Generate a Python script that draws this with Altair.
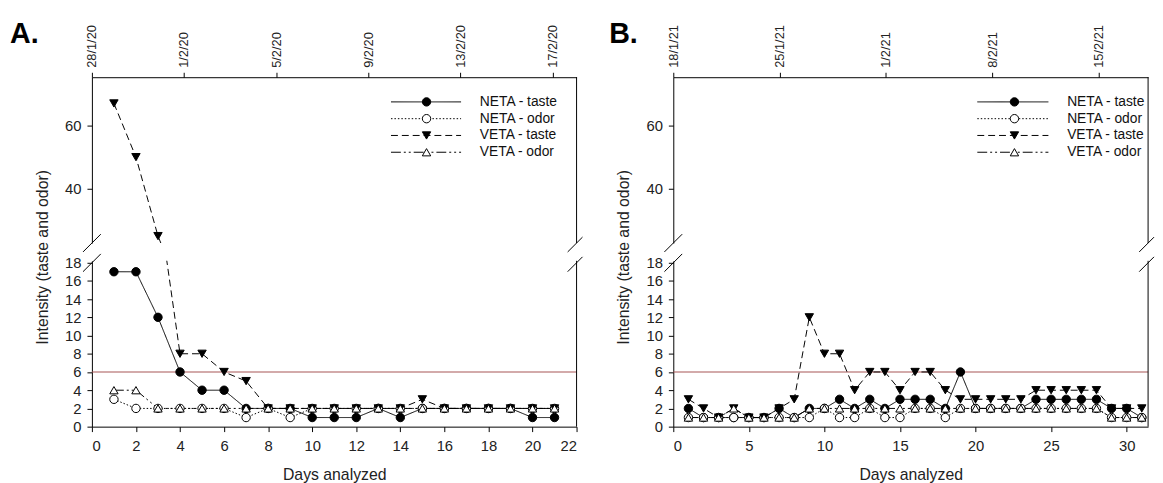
import altair as alt
import pandas as pd

# ---------------- data ----------------
series_names = ["NETA - taste", "NETA - odor", "VETA - taste", "VETA - odor"]

days_a = [1, 2, 3, 4, 5, 6, 7, 8, 9, 10, 11, 12, 13, 14, 15, 16, 17, 18, 19, 20, 21]
neta_taste_a = [17, 17, 12, 6, 4, 4, 2, 2, 2, 1, 1, 1, 2, 1, 2, 2, 2, 2, 2, 1, 1]
neta_odor_a = [3, 2, 2, 2, 2, 2, 1, 2, 1, 2, 2, 2, 2, 2, 2, 2, 2, 2, 2, 2, 2]
veta_taste_a = [67, 50, 25, 8, 8, 6, 5, 2, 2, 2, 2, 2, 2, 2, 3, 2, 2, 2, 2, 2, 2]
veta_odor_a = [4, 4, 2, 2, 2, 2, 2, 2, 2, 2, 2, 2, 2, 2, 2, 2, 2, 2, 2, 2, 2]

days_b = [1, 2, 3, 4, 5, 6, 7, 8, 9, 10, 11, 12, 13, 14, 15, 16, 17, 18, 19, 20,
          21, 22, 23, 24, 25, 26, 27, 28, 29, 30, 31]
neta_taste_b = [2, 1, 1, 1, 1, 1, 2, 1, 2, 2, 3, 2, 3, 2, 3, 3, 3, 2, 6, 2,
                2, 2, 2, 3, 3, 3, 3, 3, 2, 2, 1]
neta_odor_b = [1, 1, 1, 1, 1, 1, 1, 1, 1, 2, 1, 1, 2, 1, 1, 2, 2, 1, 2, 2,
               2, 2, 2, 2, 2, 2, 2, 2, 1, 1, 1]
veta_taste_b = [3, 2, 1, 2, 1, 1, 2, 3, 12, 8, 8, 4, 6, 6, 4, 6, 6, 4, 3, 3,
                3, 3, 3, 4, 4, 4, 4, 4, 2, 2, 2]
veta_odor_b = [1, 1, 1, 2, 1, 1, 1, 1, 2, 2, 2, 2, 2, 2, 2, 2, 2, 2, 2, 2,
               2, 2, 2, 2, 2, 2, 2, 2, 1, 1, 1]

x_ticks_a = [0, 2, 4, 6, 8, 10, 12, 14, 16, 18, 20, 22]
x_ticks_b = [0, 5, 10, 15, 20, 25, 30]
top_offsets_a = [0, 4, 8, 12, 16, 20]
top_labels_a = ["28/1/20", "1/2/20", "5/2/20", "9/2/20", "13/2/20", "17/2/20"]
top_offsets_b = [0, 7, 14, 21, 28]
top_labels_b = ["18/1/21", "25/1/21", "1/2/21", "8/2/21", "15/2/21"]
y_ticks_low = [0, 2, 4, 6, 8, 10, 12, 14, 16, 18]
y_ticks_up = [40, 60]
threshold = [6]
panel_labels = ["A.", "B."]
y_title = "Intensity (taste and odor)"
x_title = "Days analyzed"

FONT = "Liberation Sans, Arial, sans-serif"
UP_H = 168
LOW_H = 168
Y_UP_DOMAIN = [22.8, 75.3]
Y_LOW_DOMAIN = [0, 18.2]

shape_scale = alt.Scale(domain=series_names,
                        range=["circle", "circle", "triangle-down", "triangle-up"])
fill_scale = alt.Scale(domain=series_names, range=["black", "white", "black", "white"])
dash_scale = alt.Scale(domain=series_names,
                       range=[[1, 0], [1.5, 2], [7, 4], [10, 3, 2, 3, 2, 3]])
size_scale = alt.Scale(domain=series_names, range=[72, 72, 88, 88])


def long_df(days, cols):
    rows = []
    for name, vals in zip(series_names, cols):
        for d, v in zip(days, vals):
            rows.append({"day": d, "value": v, "series": name})
    return pd.DataFrame(rows)


def label_expr(offsets, labels):
    expr = "''"
    for o, l in reversed(list(zip(offsets, labels))):
        expr = f"datum.value == {o} ? '{l}' : ({expr})"
    return expr


def data_layer(df, xs, ys, y_axis, x_axis):
    lines = alt.Chart(df).mark_line(clip=True, color="black", strokeWidth=1).encode(
        x=alt.X("day:Q", scale=xs, axis=x_axis),
        y=alt.Y("value:Q", scale=ys, axis=y_axis),
        strokeDash=alt.StrokeDash("series:N", scale=dash_scale, legend=None),
        order="day:Q",
    )
    pts = alt.Chart(df).mark_point(clip=True, stroke="black", strokeWidth=1,
                                   opacity=1, fillOpacity=1).encode(
        x=alt.X("day:Q", scale=xs, axis=x_axis),
        y=alt.Y("value:Q", scale=ys, axis=y_axis),
        shape=alt.Shape("series:N", scale=shape_scale, legend=None),
        fill=alt.Fill("series:N", scale=fill_scale, legend=None),
        size=alt.Size("series:N", scale=size_scale, legend=None),
    )
    return alt.layer(lines, pts)


def deco_rule(x1, x2, y1, y2):
    one = pd.DataFrame({"k": [0]})
    return alt.Chart(one).mark_rule(color="black", strokeWidth=1).encode(
        x=alt.value(x1), x2=alt.value(x2), y=alt.value(y1), y2=alt.value(y2))


def build_panel(df, width, x_max, x_ticks, top_offsets, top_labels, top_max,
                label, label_x, legend_x):
    xs = alt.Scale(domain=[0, x_max], nice=False, zero=False)
    ys_up = alt.Scale(domain=Y_UP_DOMAIN, nice=False, zero=False)
    ys_low = alt.Scale(domain=Y_LOW_DOMAIN, nice=False, zero=False)

    up_axis = alt.Axis(values=y_ticks_up, title=y_title, titleX=-45, titleY=182,
                       titleAngle=270, titleAlign="center",
                       titleBaseline="alphabetic", tickSize=5, labelPadding=6,
                       labelFontSize=15, titleFontSize=16)
    up_data = data_layer(df, xs, ys_up, up_axis, None)

    dates_df = pd.DataFrame({"offset": top_offsets})
    date_layer = alt.Chart(dates_df).mark_point(opacity=0).encode(
        x=alt.X("offset:Q",
                scale=alt.Scale(domain=[0, top_max], nice=False, zero=False),
                axis=alt.Axis(orient="top", values=top_offsets,
                              labelExpr=label_expr(top_offsets, top_labels),
                              labelAngle=270, labelAlign="left",
                              labelBaseline="middle", tickSize=5, labelPadding=5,
                              labelFontSize=13, title=None))
    )

    leg_df = pd.DataFrame({"series": series_names})
    ly = alt.Y("series:N", scale=alt.Scale(domain=series_names, type="point",
                                           range=[25, 76], padding=0), axis=None)
    lx0, lx1, lm, lt = legend_x
    leg_rule = alt.Chart(leg_df).mark_rule(color="black", strokeWidth=1).encode(
        x=alt.value(lx0), x2=alt.value(lx1), y=ly,
        strokeDash=alt.StrokeDash("series:N", scale=dash_scale, legend=None))
    leg_pt = alt.Chart(leg_df).mark_point(stroke="black", strokeWidth=1, opacity=1,
                                          fillOpacity=1).encode(
        x=alt.value(lm), y=ly,
        shape=alt.Shape("series:N", scale=shape_scale, legend=None),
        fill=alt.Fill("series:N", scale=fill_scale, legend=None),
        size=alt.Size("series:N", scale=size_scale, legend=None))
    leg_txt = alt.Chart(leg_df).mark_text(align="left", baseline="middle",
                                          fontSize=14, font=FONT,
                                          color="#111").encode(
        x=alt.value(lt), y=ly, text="series:N")

    lab_df = pd.DataFrame({"t": [label]})
    lab = alt.Chart(lab_df).mark_text(align="left", baseline="alphabetic",
                                      fontSize=29, fontWeight="bold", font=FONT,
                                      color="black").encode(
        x=alt.value(label_x), y=alt.value(-35), text="t:N")

    upper = alt.layer(
        up_data, date_layer, leg_rule, leg_pt, leg_txt, lab,
        deco_rule(width, width, 0, UP_H),
        deco_rule(-9, 9, UP_H + 9, UP_H - 9),
        deco_rule(width - 9, width + 6, UP_H + 9, UP_H - 6),
    ).resolve_scale(x="independent", y="independent").properties(
        width=width, height=UP_H)

    low_axis_y = alt.Axis(values=y_ticks_low, title=None, tickSize=5,
                          labelPadding=6, labelFontSize=15)
    low_axis_x = alt.Axis(values=x_ticks, title=x_title, tickSize=5, labelPadding=7,
                          labelFontSize=15, titleFontSize=16, titleY=41,
                          titleBaseline="top")
    low_data = data_layer(df, xs, ys_low, low_axis_y, low_axis_x)
    thr = alt.Chart(pd.DataFrame({"t": threshold})).mark_rule(
        color="#a85656", strokeWidth=1.2).encode(
        y=alt.Y("t:Q", scale=ys_low, axis=None))

    lower = alt.layer(
        thr, low_data,
        deco_rule(width, width, 0, LOW_H),
        deco_rule(-9, 9, 11, -7),
        deco_rule(width - 9, width + 6, 11, -4),
    ).resolve_scale(x="independent", y="independent").properties(
        width=width, height=LOW_H)

    return alt.vconcat(upper, lower, spacing=18, bounds="flush")


df_a = long_df(days_a, [neta_taste_a, neta_odor_a, veta_taste_a, veta_odor_a])
df_b = long_df(days_b, [neta_taste_b, neta_odor_b, veta_taste_b, veta_odor_b])

W_A = 491
W_B = 481
panel_a = build_panel(df_a, W_A, 22, x_ticks_a, top_offsets_a, top_labels_a,
                      W_A / 23.33, panel_labels[0], -83, (303, 374, 339, 393))
panel_b = build_panel(df_b, W_B, W_B / 15.31, x_ticks_b, top_offsets_b, top_labels_b,
                      W_B / 15.38, panel_labels[1], -65, (308, 380, 345.6, 399))

chart = alt.hconcat(panel_a, panel_b, spacing=26).properties(
    padding={"left": 2, "top": 9, "right": 0, "bottom": 0}
).configure_axis(
    labelFont=FONT, titleFont=FONT, labelColor="#222", titleColor="#222",
    domainColor="black", tickColor="black", grid=False, titleFontWeight="normal",
    domainWidth=1, tickWidth=1
).configure_view(stroke=None)

chart.save("out.html", embed_options={"renderer": "svg", "actions": False})
